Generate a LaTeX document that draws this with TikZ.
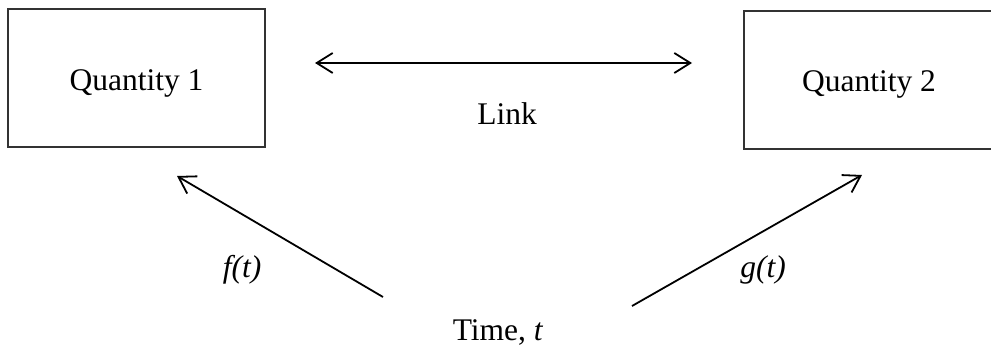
\documentclass[tikz,border=0pt]{standalone}
\usepackage{fontspec}
\setmainfont{Liberation Serif}
\usetikzlibrary{arrows.meta}
\begin{document}
\begin{tikzpicture}[x=1pt,y=-1pt,
  qbox/.style={draw=black!80, line width=1.8pt, minimum width=257pt, minimum height=138pt, inner sep=0pt, font=\fontsize{31.5}{36}\selectfont},
  lbl/.style={inner sep=0pt, font=\fontsize{31.5}{36}\selectfont},
  conn/.style={line width=1.8pt, -{Straight Barb[length=16pt,width=20pt,line width=1.8pt]}},
  biconn/.style={line width=1.8pt, {Straight Barb[length=16pt,width=20pt,line width=1.8pt]}-{Straight Barb[length=16pt,width=20pt,line width=1.8pt]}}]
  \useasboundingbox (0,0) rectangle (991,345);
  % the two quantities (text baseline set 12pt below the box centre)
  \node[qbox] (q1) at (136.5,78) {\raisebox{-12pt}[0pt][0pt]{Quantity 1}};
  \node[qbox, minimum width=250pt] (q2) at (869,80) {\raisebox{-12pt}[0pt][0pt]{Quantity 2}};
  % link between them
  \coordinate (la) at (315,63);
  \coordinate (lb) at (692,63);
  \draw[biconn] (la) -- (lb);
  \node[lbl] (link) at (507,114) {Link};
  % time and its maps
  \node[lbl] (time) at (498,332) {Time, \textit{t}};
  \coordinate (fs) at (383,297);
  \coordinate (fe) at (177,176);
  \coordinate (gs) at (632,306);
  \coordinate (ge) at (862,175);
  \draw[conn] (fs) -- (fe);
  \draw[conn] (gs) -- (ge);
  \node[lbl] (f) at (242,270) {\textit{f(t)}};
  \node[lbl] (g) at (763,270) {\textit{g(t)}};
\end{tikzpicture}
\end{document}
